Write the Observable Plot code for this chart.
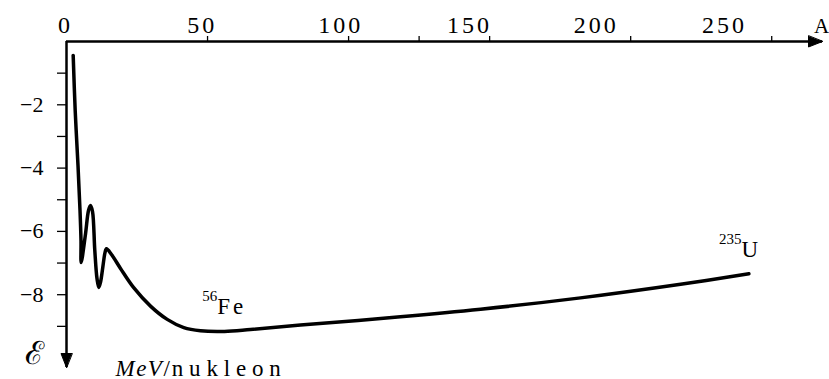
<!DOCTYPE html>
<html><head><meta charset="utf-8">
<script src="https://cdn.jsdelivr.net/npm/d3@7"></script>
<script src="https://cdn.jsdelivr.net/npm/@observablehq/plot@0.6"></script>
<style>
body{margin:0;background:#fff}
svg, svg text{font-family:"Liberation Serif","Times New Roman",serif !important}
</style>
</head><body><div id="chart"></div>
<script>
// Mass number A and binding energy per nucleon (MeV/nucleon)
const massNumber = [2.37, 3.08, 4.08, 4.79, 5.14, 5.21, 6.74, 7.8, 8.51, 9.22, 10.03, 10.81, 11.45, 12.05, 12.87, 13.65, 14.18, 15.95, 19.14, 23.75, 29.78, 35.7, 41.58, 47.5, 56, 65.2, 82.95, 118.4, 146.8, 182.2, 217.7, 241.9];
const energy     = [-0.44, -2.18, -3.92, -5.34, -6.29, -6.98, -6.08, -5.34, -5.18, -5.37, -6.6, -7.49, -7.77, -7.61, -7.13, -6.67, -6.55, -6.73, -7.17, -7.77, -8.36, -8.78, -9.04, -9.14, -9.16, -9.1, -8.96, -8.7, -8.46, -8.1, -7.67, -7.34];

const xTickValues = [50, 100, 125, 150, 200, 250];
const xTickLabels = ["0", "50", "100", "150", "200", "250"];
const xLabelAt    = [-0.35, 48.1, 97.2, 142.9, 187.8, 233.3];
const yTickValues = [-1, -2, -3, -4, -5, -6, -7, -8, -9];
const yLabelValues = [-2, -4, -6, -8];
const isoMass   = ["56", "235"];
const isoSymbol = ["Fe", "U"];
const isoA      = [53.4, 239.3];
const isoE      = [-8.6, -6.82];
const unitParts = ["MeV", "/", "nukleon"];
const xMax = 268, yMin = -10.3;

const curve = massNumber.map((A, i) => ({A, E: energy[i]}));
const isotopes = isoSymbol.map((s, i) => ({symbol: s, mass: isoMass[i], A: isoA[i], E: isoE[i]}));
const xLabels = xTickLabels.map((t, i) => ({t, at: xLabelAt[i]}));
const unitLabel = unitParts.join("");
const serif = "Liberation Serif";
const arrowHead = {draw(ctx, l, r) { ctx.moveTo(0, -l); ctx.lineTo(r, 0); ctx.lineTo(-r, 0); ctx.closePath(); }};

const chart = Plot.plot({
  width: 829, height: 379,
  marginLeft: 66, marginRight: 7, marginTop: 41, marginBottom: 12,
  style: {background: "#fff", color: "#000", overflow: "visible"},
  x: {domain: [0, xMax]},
  y: {domain: [yMin, 0]},
  marks: [
    Plot.ruleY([0], {stroke: "#000", strokeWidth: 2.5}),
    Plot.ruleX([0], {stroke: "#000", strokeWidth: 2.5}),
    Plot.vector([{x: xMax, y: 0, rot: 90}, {x: 0, y: yMin, rot: 180}], {
      x: "x", y: "y", rotate: "rot", length: 14, r: 5.5, anchor: "end",
      shape: arrowHead, fill: "#000", stroke: "#000", strokeWidth: 1
    }),
    Plot.axisX(xTickValues, {anchor: "top", tickSize: 6, strokeWidth: 1.3, tickFormat: () => "", label: null}),
    Plot.text(xLabels, {x: "at", frameAnchor: "top", text: "t", lineAnchor: "bottom", dy: -9, fontSize: 24, fontFamily: serif}),
    Plot.axisY(yTickValues, {anchor: "left", tickSize: 9, tickPadding: 14, strokeWidth: 1.3,
      tickFormat: d => yLabelValues.includes(d) ? "\u2212" + Math.abs(d) : "", fontSize: 22, fontFamily: serif, label: null}),
    Plot.text(["A"], {frameAnchor: "top-right", lineAnchor: "bottom", textAnchor: "middle", dx: -1, dy: -9, fontSize: 21, fontFamily: serif}),
    Plot.line(curve, {x: "A", y: "E", curve: "catmull-rom", stroke: "#000", strokeWidth: 3.5}),
    Plot.text(isotopes, {x: "A", y: "E", text: "symbol", textAnchor: "start", lineAnchor: "bottom", fontSize: 23, fontFamily: serif}),
    Plot.text(isotopes, {x: "A", y: "E", text: "mass", textAnchor: "end", lineAnchor: "bottom", dy: -13, fontSize: 15, fontFamily: serif}),
    Plot.text(["\u2130"], {frameAnchor: "bottom-left", textAnchor: "end", lineAnchor: "bottom", dx: -23, dy: -4, fontSize: 32, fontFamily: serif}),
    Plot.text([unitLabel], {frameAnchor: "bottom-left", textAnchor: "start", lineAnchor: "bottom", dx: 49, dy: 8, fontSize: 23, fontFamily: serif})
  ]
});
// letter spacing and italic unit as in the reference typesetting
d3.select(chart).selectAll("text").each(function() {
  const t = this.textContent;
  if (xTickLabels.includes(t)) this.style.letterSpacing = "3px";
  else if (t === "Fe") this.style.letterSpacing = "3px";
  else if (t === unitLabel) {
    const el = d3.select(this);
    el.text(null);
    el.append("tspan").text(unitParts[0]).style("font-style", "italic").style("letter-spacing", "1.5px");
    el.append("tspan").text(unitParts[1]).style("letter-spacing", "2px");
    el.append("tspan").text(unitParts[2]).style("letter-spacing", "5.8px");
  }
});
document.getElementById("chart").appendChild(chart);
</script>
</body></html>
